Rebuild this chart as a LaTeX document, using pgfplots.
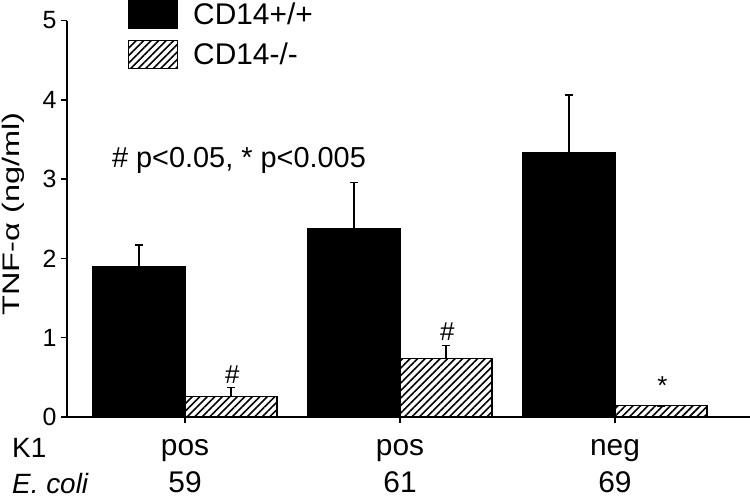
\documentclass[border=0pt]{standalone}
\usepackage{fontspec}
\setmainfont{Liberation Sans}
\usepackage{graphicx}
\usepackage{pgfplots}
\pgfplotsset{compat=1.18}
\usetikzlibrary{patterns.meta}

\begin{document}
\begin{tikzpicture}
\begin{axis}[
  scale only axis, width=683bp, height=396.5bp,
  xmin=0.451, xmax=3.628, ymin=0, ymax=5,
  axis x line=bottom, axis y line=left,
  axis line style={line width=1.5bp, -},
  ytick={0,1,2,3,4,5},
  xtick={1,2,3},
  xticklabels={{pos\\59},{pos\\61},{neg\\69}},
  x tick label style={align=center, font=\fontsize{30}{37}\selectfont, anchor=north, yshift=-15bp, inner ysep=1bp},
  y tick label style={font=\fontsize{25}{27}\selectfont, xshift=-1bp},
  /pgf/number format/assume math mode=true,
  tick align=outside,
  major tick length=6bp,
  tick style={line width=1.5bp, black},
  ylabel={\scalebox{1.36}[1]{TNF-α (ng/ml)}},
  ylabel style={font=\fontsize{24}{26}\selectfont, at={(rel axis cs:-0.0783,0.512)}, anchor=center},
  legend style={draw=none, fill=none, at={(rel axis cs:0.089,1.052)}, anchor=north west,
    inner sep=0pt, font=\fontsize{30}{32}\selectfont, row sep=11bp, column sep=13bp,
    nodes={inner sep=2bp}},
  legend cell align=left,
  legend image code/.code={\draw[#1] (0bp,-14bp) rectangle (49bp,14bp);},
  clip=false,
]
\coordinate (O) at (rel axis cs:0,0);
\addplot[ybar, bar width=0.428, bar shift=0, fill=black, draw=black, line width=1.2bp,
  error bars/.cd, y dir=plus, y explicit,
  error bar style={line width=1.5bp, black},
  error mark options={rotate=90, line width=1.5bp, mark size=4bp, black}]
  coordinates {(0.786,1.90) +- (0,0.27) (1.786,2.38) +- (0,0.58) (2.786,3.33) +- (0,0.73)};
\addlegendentry{CD14+/+}
\addplot[ybar, bar width=0.428, bar shift=0, fill=white, draw=black, line width=1.2bp,
  postaction={pattern={Lines[angle=45,distance=5.3bp,line width=1.6bp]}, pattern color=black},
  error bars/.cd, y dir=plus, y explicit,
  error bar style={line width=1.5bp, black},
  error mark options={rotate=90, line width=1.5bp, mark size=4bp, black}]
  coordinates {(1.214,0.26) +- (0,0.11) (2.214,0.74) +- (0,0.16) (3.214,0.14) +- (0,0.0)};
\addlegendentry{CD14-/-}
\node[anchor=base, font=\fontsize{29}{31}\selectfont] at (axis cs:1.251,3.15) {\# p<0.05, * p<0.005};
\node[anchor=base, font=\fontsize{26}{28}\selectfont] at (axis cs:1.22,0.42) {\#};
\node[anchor=base, font=\fontsize{26}{28}\selectfont] at (axis cs:2.22,0.97) {\#};
\node[anchor=base, font=\fontsize{26}{28}\selectfont] at (axis cs:3.22,0.29) {*};
\node[anchor=base west, font=\fontsize{28}{30}\selectfont, inner sep=0pt] at (rel axis cs:-0.0805,-0.1034) {K1};
\node[anchor=base west, font=\fontsize{28}{30}\selectfont\itshape, inner sep=0pt] at (rel axis cs:-0.0805,-0.193) {E. coli};
\end{axis}
\pgfresetboundingbox
\path[use as bounding box] (O) ++(-67bp,-82bp) rectangle ++(750bp,499bp);
\end{tikzpicture}
\end{document}
